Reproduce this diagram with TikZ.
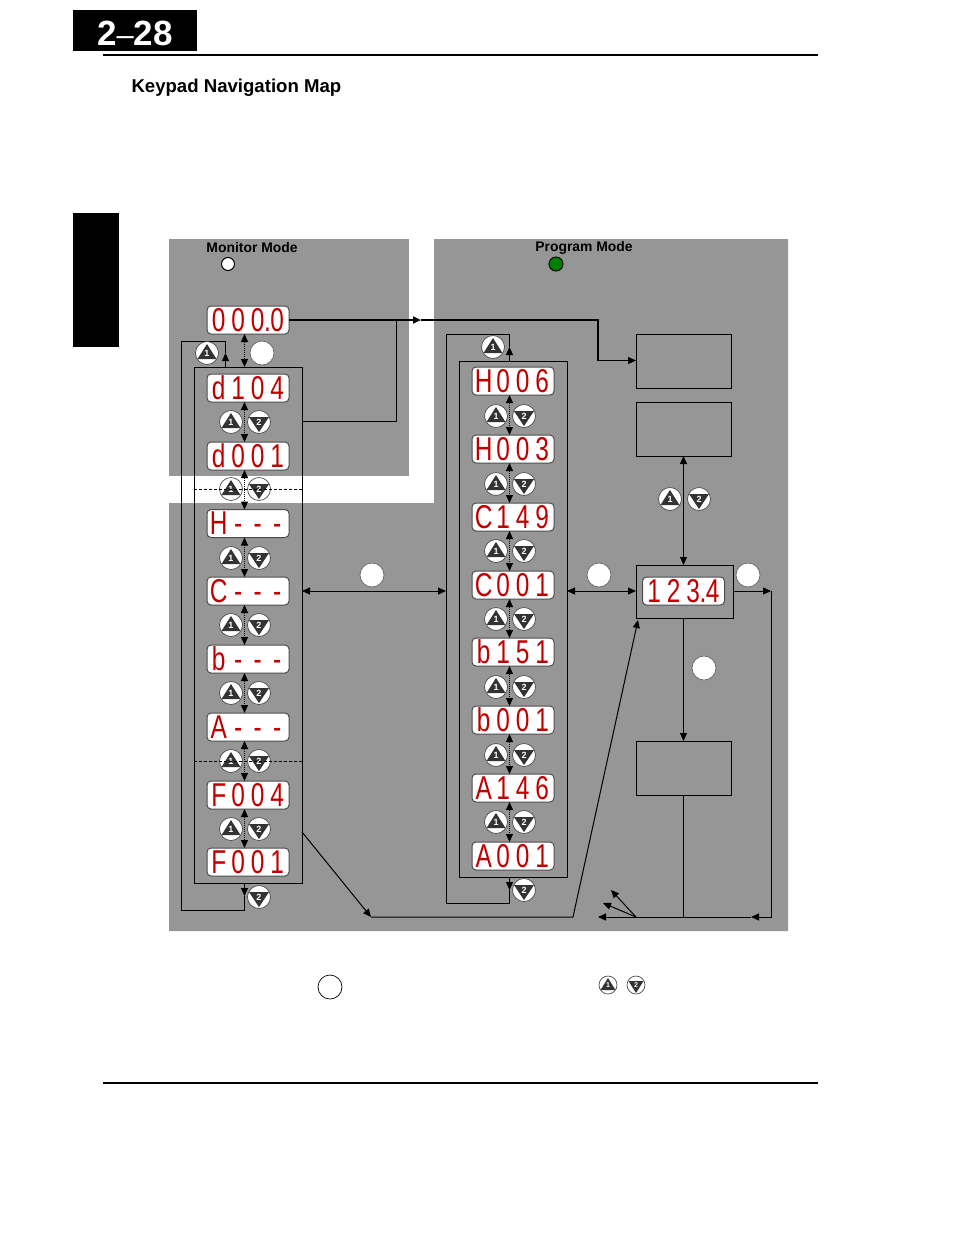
\documentclass[tikz,border=0pt]{standalone}
\usepackage{fontspec}
\setmainfont{Liberation Sans}
\newfontfamily\ledfont[FakeStretch=0.74]{Liberation Sans}
\usepackage{xcolor}
\usetikzlibrary{arrows.meta}

\definecolor{panelgray}{HTML}{969696}
\definecolor{btndark}{HTML}{333333}
\definecolor{ledred}{HTML}{C00000}
\definecolor{ledgreen}{HTML}{008000}

% one fixed cell per display character, the point takes no room
\newcommand{\ledrow}[1]{\ledscan#1\relax}
\def\ledscan#1{\ifx#1\relax\else\ifx#1.\makebox[0pt]{.}\else\makebox[19.5pt]{#1}\fi\expandafter\ledscan\fi}

\tikzset{
    led/.style={draw=black!70, fill=white, rounded corners=4pt, minimum width=82pt, minimum height=28pt,
        inner sep=0pt, outer sep=0pt, text=ledred, font=\ledfont\fontsize{33}{33}\selectfont},
    btnbase/.style={circle, draw=black!70, line width=0.7pt, fill=white, inner sep=0pt, minimum size=#1pt, text=white},
    upbtn/.style={btnbase=23, font=\bfseries\fontsize{9}{9}\selectfont, path picture={
        \fill[btndark] ([shift={(0,-9)}]path picture bounding box.center) -- ++(9.5,15) -- ++(-19,0) -- cycle;}},
    downbtn/.style={btnbase=23, font=\bfseries\fontsize{9}{9}\selectfont, path picture={
        \fill[btndark] ([shift={(0,10)}]path picture bounding box.center) -- ++(10,-15) -- ++(-20,0) -- cycle;}},
    smallup/.style={btnbase=18, font=\bfseries\fontsize{7}{7}\selectfont, path picture={
        \fill[btndark] ([shift={(0,-7)}]path picture bounding box.center) -- ++(7.5,12) -- ++(-15,0) -- cycle;}},
    smalldown/.style={btnbase=18, font=\bfseries\fontsize{7}{7}\selectfont, path picture={
        \fill[btndark] ([shift={(0,8)}]path picture bounding box.center) -- ++(7.5,-12) -- ++(-15,0) -- cycle;}},
    keycircle/.style={circle, draw=black!60, line width=0.7pt, fill=white, inner sep=0pt, minimum size=24pt},
    framebox/.style={draw=black, inner sep=0pt, outer sep=0pt},
    stepline/.style={<->, densely dotted, black},
    title/.style={font=\bfseries\fontsize{13.9}{13.9}\selectfont},
}

\begin{document}
\begin{tikzpicture}[x=1pt, y=-1pt, line width=1pt, >={Triangle[length=8pt,width=7pt]}]
    \useasboundingbox (0,0) rectangle (954,1235);

    % page furniture
    \fill[black] (73,10) rectangle (197,51);
    \fill[black] (73,213) rectangle (119,347);
    \draw[line width=2pt] (103,55) -- (818,55);
    \draw[line width=2pt] (103,1083) -- (818,1083);
    \node[text=white, font=\bfseries\fontsize{35}{35}\selectfont] (pagenum) at (135,33.5) {2{\mdseries\fontsize{31}{31}\selectfont--}28};
    \node[anchor=west, font=\bfseries\fontsize{18.6}{18.6}\selectfont, inner sep=0pt] (heading) at (131,87.5) {Keypad Navigation Map};

    % gray panels
    \fill[panelgray] (169,239) rectangle (409,476);
    \fill[panelgray] (434,239) -- (788,239) -- (788,931) -- (169,931) -- (169,503) -- (434,503) -- cycle;

    \node[title] (monitor) at (252,248) {Monitor Mode};
    \node[title] (program) at (584,248) {Program Mode};
    \node[circle, draw=black, fill=white, inner sep=0pt, minimum size=13pt] (monled) at (228,264) {};
    \node[circle, draw=black, fill=ledgreen, inner sep=0pt, minimum size=14pt] (progled) at (556,264) {};

    % frames
    \node[framebox, minimum width=108pt, minimum height=516pt] (monbox) at (248,625) {};
    \node[framebox, minimum width=108pt, minimum height=516pt] (progbox) at (513,619) {};
    \node[framebox, minimum width=95pt, minimum height=54pt] (boxa) at (683.5,361) {};
    \node[framebox, minimum width=95pt, minimum height=54pt] (boxb) at (683.5,429) {};
    \node[framebox, minimum width=97pt, minimum height=53pt] (boxd) at (684.5,591.5) {};
    \node[framebox, minimum width=95pt, minimum height=54pt] (boxc) at (683.5,768) {};

    % monitor column
    \node[led] (zero) at (248,320) {\ledrow{000.0}};
    \node[led] (d104) at (248,388) {\ledrow{d104}};
    \node[led] (d001) at (248,456) {\ledrow{d001}};
    \node[led] (hgrp) at (248,523.5) {\ledrow{H---}};
    \node[led] (cgrp) at (248,591) {\ledrow{C---}};
    \node[led] (bgrp) at (248,659) {\ledrow{b---}};
    \node[led] (agrp) at (248,727) {\ledrow{A---}};
    \node[led] (f004) at (248,795) {\ledrow{F004}};
    \node[led] (f001) at (248,862) {\ledrow{F001}};

    % program column
    \node[led] (h006) at (513,381) {\ledrow{H006}};
    \node[led] (h003) at (513,449) {\ledrow{H003}};
    \node[led] (c149) at (513,517) {\ledrow{C149}};
    \node[led] (c001) at (513,585) {\ledrow{C001}};
    \node[led] (b151) at (513,652) {\ledrow{b151}};
    \node[led] (b001) at (513,720) {\ledrow{b001}};
    \node[led] (a146) at (513,788) {\ledrow{A146}};
    \node[led] (a001) at (513,856) {\ledrow{A001}};

    \node[led] (edit) at (683.5,591) {\ledrow{123.4}};

    % scroll arrows
    \draw[stepline] ([xshift=-3.5pt]zero.south) -- ([xshift=-3.5pt]monbox.north);
    \draw[stepline] ([xshift=-3.5pt]d104.south) -- ([xshift=-3.5pt]d001.north);
    \draw[stepline] ([xshift=-3.5pt]d001.south) -- ([xshift=-3.5pt]hgrp.north);
    \draw[stepline] ([xshift=-3.5pt]hgrp.south) -- ([xshift=-3.5pt]cgrp.north);
    \draw[stepline] ([xshift=-3.5pt]cgrp.south) -- ([xshift=-3.5pt]bgrp.north);
    \draw[stepline] ([xshift=-3.5pt]bgrp.south) -- ([xshift=-3.5pt]agrp.north);
    \draw[stepline] ([xshift=-3.5pt]agrp.south) -- ([xshift=-3.5pt]f004.north);
    \draw[stepline] ([xshift=-3.5pt]f004.south) -- ([xshift=-3.5pt]f001.north);

    \draw[stepline] ([xshift=-3.5pt]h006.south) -- ([xshift=-3.5pt]h003.north);
    \draw[stepline] ([xshift=-3.5pt]h003.south) -- ([xshift=-3.5pt]c149.north);
    \draw[stepline] ([xshift=-3.5pt]c149.south) -- ([xshift=-3.5pt]c001.north);
    \draw[stepline] ([xshift=-3.5pt]c001.south) -- ([xshift=-3.5pt]b151.north);
    \draw[stepline] ([xshift=-3.5pt]b151.south) -- ([xshift=-3.5pt]b001.north);
    \draw[stepline] ([xshift=-3.5pt]b001.south) -- ([xshift=-3.5pt]a146.north);
    \draw[stepline] ([xshift=-3.5pt]a146.south) -- ([xshift=-3.5pt]a001.north);

    % wrap-around loops
    \coordinate (montop) at (225.5,341);
    \coordinate (monleft) at (181,341);
    \coordinate (monlow) at (181,910);
    \coordinate (monout) at (244.5,910);
    \coordinate (monup) at (225.5,353);
    \coordinate (mondown) at (244.5,896);
    \draw[->] (monbox.north -| monup) -- (monup);
    \draw (monup) -- (montop) -- (monleft) -- (monlow) -- (monout) -- (mondown);
    \draw[->] (monbox.south -| mondown) -- (mondown);

    \coordinate (progtop) at (509.5,334);
    \coordinate (progleft) at (446,334);
    \coordinate (proglow) at (446,903);
    \coordinate (progout) at (509.5,903);
    \coordinate (progup) at (509.5,347);
    \coordinate (progdown) at (509.5,890);
    \draw[->] (progbox.north -| progup) -- (progup);
    \draw (progup) -- (progtop) -- (progleft) -- (proglow) -- (progout) -- (progdown);
    \draw[->] (progbox.south -| progdown) -- (progdown);

    % top run to the program side
    \coordinate (topmid) at (421,320);
    \coordinate (topjoin) at (396.5,320);
    \coordinate (topturn) at (598,320);
    \coordinate (boxturn) at (598,360.5);
    \coordinate (monexit) at (302,421);
    \coordinate (monturn) at (396.5,421);
    \draw[->, line width=2pt] (zero.east) -- (topmid);
    \draw[line width=1.3pt] (topmid) -- (topturn) -- (boxturn);
    \draw[->] (boxturn) -- (boxa.west |- boxturn);
    \draw (monexit) -- (monturn) -- (topjoin);

    % links between the frames
    \draw[<->] (monbox.east |- cgrp) -- (progleft |- cgrp);
    \draw[<->] (progbox.east |- cgrp) -- (boxd.west |- cgrp);
    \draw[<->] (boxb.south) -- (boxb.south |- boxd.north);
    \draw[->] (boxc.north |- boxd.south) -- (boxc.north);

    % return run along the bottom
    \coordinate (rightend) at (771,591);
    \coordinate (rightlow) at (771,917);
    \coordinate (retmid) at (751,917);
    \coordinate (retfork) at (636,917);
    \coordinate (retend) at (598,917);
    \coordinate (retfan) at (611,890);
    \coordinate (retfanb) at (603,903);
    \coordinate (moncorner) at (302,832);
    \coordinate (lowleft) at (371,917);
    \coordinate (lowright) at (573,917);
    \coordinate (editin) at (638,620);
    \draw[->] (boxd.east |- rightend) -- (rightend);
    \draw[->] (rightend) -- (rightlow) -- (retmid);
    \draw[->] (retmid) -- (retend);
    \draw[->] (retfork) -- (retfan);
    \draw[->] (retfork) -- (retfanb);
    \draw (boxc.south) -- (boxc.south |- retfork);
    \draw[->] (moncorner) -- (lowleft);
    \draw[->] (lowleft) -- (lowright) -- (editin);

    % keys, monitor side
    \node[upbtn] (up0) at (207,353) {1};
    \node[upbtn] (up1) at (231,422) {1};
    \node[downbtn] (dn1) at (259,422) {2};
    \node[upbtn] (up2) at (231,489) {1};
    \node[downbtn] (dn2) at (259,489) {2};
    \node[upbtn] (up3) at (231,558) {1};
    \node[downbtn] (dn3) at (259,558) {2};
    \node[upbtn] (up4) at (231,625) {1};
    \node[downbtn] (dn4) at (259,625) {2};
    \node[upbtn] (up5) at (231,693) {1};
    \node[downbtn] (dn5) at (259,693) {2};
    \node[upbtn] (up6) at (231,761) {1};
    \node[downbtn] (dn6) at (259,761) {2};
    \node[upbtn] (up7) at (231,829) {1};
    \node[downbtn] (dn7) at (259,829) {2};
    \node[downbtn] (dn8) at (259,897) {2};

    % keys, program side
    \node[upbtn] (pup0) at (493,347) {1};
    \node[upbtn] (pup1) at (496,416) {1};
    \node[downbtn] (pdn1) at (524,416) {2};
    \node[upbtn] (pup2) at (496,484) {1};
    \node[downbtn] (pdn2) at (524,484) {2};
    \node[upbtn] (pup3) at (496,551) {1};
    \node[downbtn] (pdn3) at (524,551) {2};
    \node[upbtn] (pup4) at (496,619) {1};
    \node[downbtn] (pdn4) at (524,619) {2};
    \node[upbtn] (pup5) at (496,687) {1};
    \node[downbtn] (pdn5) at (524,687) {2};
    \node[upbtn] (pup6) at (496,755) {1};
    \node[downbtn] (pdn6) at (524,755) {2};
    \node[upbtn] (pup7) at (496,822) {1};
    \node[downbtn] (pdn7) at (524,822) {2};
    \node[downbtn] (pdn8) at (524,890) {2};

    \node[upbtn] (eup) at (670,499) {1};
    \node[downbtn] (edn) at (699,499) {2};

    % legend
    \node[smallup] (legup) at (608,985) {1};
    \node[smalldown] (legdn) at (636,985) {2};

    % blank key circles
    \node[keycircle] (keya) at (262,353) {};
    \node[keycircle] (keyb) at (372,575) {};
    \node[keycircle] (keyc) at (599,575) {};
    \node[keycircle] (keyd) at (748,575) {};
    \node[keycircle] (keye) at (704,668) {};
    \node[keycircle, draw=black] (keyf) at (330,987) {};

    % group separators
    \draw[densely dashed, line width=0.7pt] (monbox.west |- up2) -- (monbox.east |- up2);
    \draw[densely dashed, line width=0.7pt] (monbox.west |- up6) -- (monbox.east |- up6);

\end{tikzpicture}
\end{document}
